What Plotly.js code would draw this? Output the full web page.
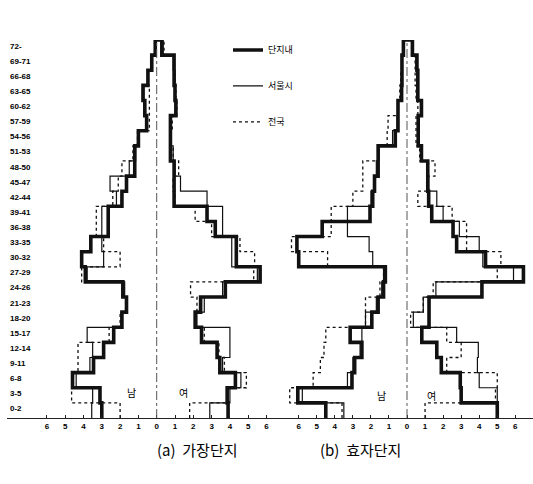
<!DOCTYPE html>
<html><head><meta charset="utf-8">
<script src="https://cdn.plot.ly/plotly-3.0.1.min.js"></script>
<style>html,body{margin:0;padding:0;background:#fff}#chart{width:533px;height:484px}</style>
</head><body><div id="chart"></div>
<script>
// Age groups (bottom to top)
const ageLabels = ["0-2","3-5","6-8","9-11","12-14","15-17","18-20","21-23","24-26","27-29","30-32","33-35","36-38","39-41","42-44","45-47","48-50","51-53","54-56","57-59","60-62","63-65","66-68","69-71","72-"];
const seriesNames = ["단지내","서울시","전국"];
const xTickVals = [-6,-5,-4,-3,-2,-1,0,1,2,3,4,5,6];
const xTickText = ["6","5","4","3","2","1","0","1","2","3","4","5","6"];

// (a) 가장단지  — percent of population
const aMaleThick  = [3.0,3.1,4.6,3.45,2.9,2.35,1.9,1.65,1.85,3.9,4.1,3.6,2.65,2.65,1.9,1.65,1.2,1.2,1.0,0.55,0.65,0.75,0.48,0.27,0.08];
const aMaleThin   = [3.55,3.5,4.4,3.65,3.5,3.8,1.95,1.7,1.75,3.8,2.9,3.0,3.0,3.0,2.2,2.55,1.5,1.15,1.0,0.6,0.65,0.7,0.45,0.3,0.1];
const aMaleDot    = [2.0,4.65,4.55,4.3,4.3,2.6,2.0,1.7,1.9,4.1,2.0,2.9,3.3,3.3,2.4,2.1,1.9,1.3,1.05,0.4,0.4,0.4,0.45,0.3,0.1];
const aFemThick   = [3.9,3.85,4.3,3.45,3.3,2.45,2.1,2.4,3.75,5.65,4.35,4.35,3.2,2.75,0.95,0.95,0.95,0.75,0.75,0.75,1.05,1.0,0.95,0.95,0.28];
const aFemThin    = [2.9,4.0,4.6,3.6,4.0,4.0,2.2,2.6,3.6,5.5,4.1,4.1,3.6,3.6,2.75,1.3,1.0,0.9,0.8,0.8,1.0,1.0,1.0,0.9,0.35];
const aFemDot     = [1.8,3.9,4.9,3.7,3.4,2.6,2.1,2.2,1.85,5.3,5.35,4.55,3.0,2.1,1.0,0.9,1.2,0.9,0.8,0.85,1.1,1.05,1.0,0.95,0.4];

// (b) 효자단지
const bMaleThick  = [4.5,6.05,3.05,2.9,2.5,3.15,1.95,1.6,1.3,1.2,6.0,6.1,4.7,2.05,1.9,1.8,1.6,1.6,0.65,0.5,0.5,0.3,0.28,0.28,0.2];
const bMaleThin   = [3.5,5.8,3.3,3.0,2.6,2.5,2.3,1.7,1.4,1.3,1.9,2.1,3.3,3.3,2.0,1.85,1.7,1.55,0.8,0.55,0.5,0.35,0.3,0.28,0.2];
const bMaleDot    = [3.6,6.5,5.2,4.8,4.6,4.5,2.3,2.3,1.5,1.3,4.4,6.4,4.2,4.2,3.0,2.45,2.45,1.6,1.1,1.05,0.5,0.4,0.35,0.3,0.2];
const bFemThick   = [5.0,3.0,2.95,1.9,1.65,0.82,1.22,1.22,4.15,6.45,4.35,2.75,2.55,1.37,1.2,1.15,1.15,0.8,0.62,0.62,0.8,0.6,0.6,0.55,0.3];
const bFemThin    = [5.0,5.0,4.0,3.9,3.95,2.75,0.35,0.9,1.6,5.9,4.2,4.0,2.9,2.0,1.65,1.2,1.1,0.85,0.65,0.6,0.75,0.55,0.55,0.5,0.3];
const bFemDot     = [1.0,4.9,5.0,2.2,3.0,2.2,0.2,0.9,1.45,5.0,5.2,3.3,3.3,2.5,0.6,1.1,1.55,0.7,0.5,0.5,0.6,0.5,0.45,0.45,0.25];

const styles = [
  {width:3.6, dash:'solid'},
  {width:1.2, dash:'solid'},
  {width:1.3, dash:'dot'}
];

function stepTrace(values, sign, xaxis, st, name) {
  const x = values.map(v => sign * v); x.push(0);
  const y = values.map((v, i) => i); y.push(values.length);
  return {type:'scatter', mode:'lines', x:x, y:y, xaxis:xaxis, yaxis:'y',
    line:{shape:'vh', color:'#111', width:st.width, dash:st.dash},
    name:name, legendgroup:name, showlegend:false, hoverinfo:'skip'};
}

const traces = [];
const panels = [
  {xa:'x',  male:[aMaleThick,aMaleThin,aMaleDot], fem:[aFemThick,aFemThin,aFemDot]},
  {xa:'x2', male:[bMaleThick,bMaleThin,bMaleDot], fem:[bFemThick,bFemThin,bFemDot]}
];
[2,1,0].forEach(k => {
  panels.forEach(p => {
    traces.push(stepTrace(p.male[k], -1, p.xa, styles[k], seriesNames[k]));
    traces.push(stepTrace(p.fem[k], 1, p.xa, styles[k], seriesNames[k]));
  });
});
// legend entries
[0,1,2].forEach(k => {
  traces.push({type:'scatter', mode:'lines', x:[null], y:[null], xaxis:'x', yaxis:'y',
    name:seriesNames[k], legendgroup:seriesNames[k], showlegend:true,
    line:{color:'#111', width:styles[k].width, dash:styles[k].dash}});
});

const W = 533;
const axisCommon = {
  tickvals:xTickVals, ticktext:xTickText, ticks:'inside', ticklen:3, tickcolor:'#222',
  showline:true, linecolor:'#222', linewidth:1, showgrid:false, zeroline:false,
  tickfont:{size:8, family:'Liberation Sans', color:'#000', weight:'bold'}, fixedrange:true
};
const capFont = {size:15, family:'Noto Sans CJK KR', color:'#000'};
const sexFont = {size:10, family:'Noto Sans CJK KR', color:'#000'};
const layout = {
  width:533, height:484, margin:{l:0, r:0, t:40, b:66},
  paper_bgcolor:'#fff', plot_bgcolor:'#fff', showlegend:true,
  legend:{x:228/W, y:1.012, xanchor:'left', yanchor:'top', traceorder:'grouped', tracegroupgap:17,
    font:{size:9, family:'Noto Sans CJK KR', color:'#000'}, bgcolor:'rgba(0,0,0,0)', itemwidth:30},
  xaxis:Object.assign({domain:[7/W, 272/W], range:[-8.18, 6.3], anchor:'y'}, axisCommon),
  xaxis2:Object.assign({domain:[272/W, 1], range:[-7.48, 6.98], anchor:'y'}, axisCommon),
  yaxis:{range:[0,25], domain:[0,1], tickvals:ageLabels.map((s,i)=>i+0.62), ticktext:ageLabels,
    ticklabelposition:'inside', ticks:'', showgrid:false, zeroline:false, showline:false,
    tickfont:{size:8, family:'Liberation Sans', color:'#000', weight:'bold'}, fixedrange:true},
  shapes:[
    {type:'line', xref:'x', yref:'y', x0:0, x1:0, y0:0, y1:25, line:{color:'#555', width:1, dash:'dashdot'}},
    {type:'line', xref:'x2', yref:'y', x0:0, x1:0, y0:0, y1:25, line:{color:'#555', width:1, dash:'dashdot'}}
  ],
  annotations:[
    {text:'(a)\u00a0\u00a0가장단지', xref:'paper', yref:'paper', x:155/W, y:-0.116, showarrow:false, font:capFont},
    {text:'(b)\u00a0\u00a0효자단지', xref:'paper', yref:'paper', x:403/W, y:-0.116, showarrow:false, font:capFont},
    {text:'남', xref:'x', yref:'y', x:-1.4, y:1.7, showarrow:false, font:sexFont},
    {text:'여', xref:'x', yref:'y', x:1.44, y:1.7, showarrow:false, font:sexFont},
    {text:'남', xref:'x2', yref:'y', x:-1.44, y:1.5, showarrow:false, font:sexFont},
    {text:'여', xref:'x2', yref:'y', x:1.38, y:1.5, showarrow:false, font:sexFont}
  ]
};
Plotly.newPlot('chart', traces, layout, {staticPlot:true, displayModeBar:false});
</script>
</body></html>
